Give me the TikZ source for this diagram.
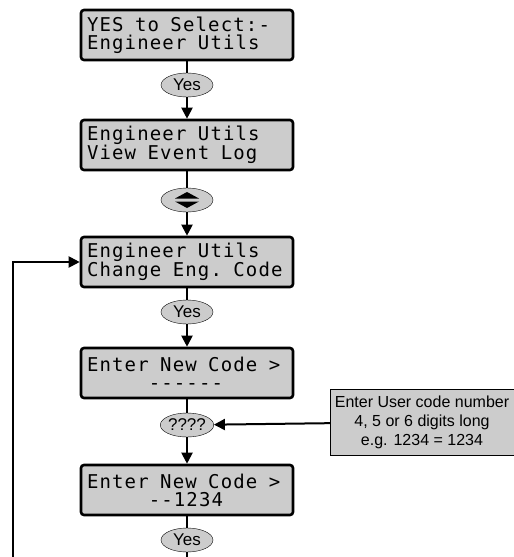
\documentclass[tikz,border=0pt]{standalone}
\usepackage{fontspec}
\setmainfont{Liberation Sans}
\newfontfamily\lcdfont{DejaVu Sans Mono}[LetterSpace=6]
\newcommand\gap{\hphantom{x}}
\usetikzlibrary{arrows.meta,shapes.geometric}

\begin{document}
\begin{tikzpicture}[x=1pt,y=-1pt,>={Triangle[length=11pt,width=11pt]},
  lcd/.style={draw,line width=2.6pt,rounded corners=3pt,fill=gray!40,
    text width=200pt,inner xsep=6pt,minimum height=50pt,align=left,
    font=\lcdfont\fontsize{19}{18}\selectfont},
  key/.style={draw,thin,ellipse,fill=gray!40,inner sep=0pt,
    minimum width=52pt,minimum height=24pt,font=\fontsize{17}{17}\selectfont},
  link/.style={line width=2pt}]
  \useasboundingbox (0,0) rectangle (514,557);
  % display screens
  \node[lcd] (sel)  at (187,35)  {YES\gap to\gap Select:-\\Engineer\gap Utils};
  \node[lcd] (log)  at (187,145) {Engineer\gap Utils\\View\gap Event\gap Log};
  \node[lcd] (chg)  at (187,262) {Engineer\gap Utils\\Change\gap Eng.\gap Code};
  \node[lcd] (new)  at (187,373) {Enter\gap New\gap Code\gap >\\\phantom{xxxxx}------};
  \node[lcd] (done) at (187,490) {Enter\gap New\gap Code\gap >\\\phantom{xxxxx}--1234};
  % keys
  \node[key] (yes1) at (187,85)  {Yes};
  \node[key] (ud)   at (187,200) {};
  \fill[shift={(ud.center)}] (-12,-1.5) -- (12,-1.5) -- (0,-8) -- cycle;
  \fill[shift={(ud.center)}] (-12,1.5) -- (12,1.5) -- (0,8) -- cycle;
  \node[key] (yes2) at (187,312) {Yes};
  \node[key] (code) at (187,425) {????};
  \node[key] (yes3) at (187,540) {Yes};
  % note
  \node[draw,thin,fill=gray!40,minimum width=184pt,minimum height=66pt,
    align=center,font=\fontsize{16}{19}\selectfont] (note) at (422,422)
    {Enter User code number\\4, 5 or 6 digits long\\e.g. 1234 = 1234};
  % connectors
  \draw[link] (sel) -- (yes1);
  \draw[link,->] (yes1) -- (log);
  \draw[link] (log) -- (ud);
  \draw[link,->] (ud) -- (chg);
  \draw[link] (chg) -- (yes2);
  \draw[link,->] (yes2) -- (new);
  \draw[link] (new) -- (code);
  \draw[link,->] (code) -- (done);
  \draw[link] (done) -- (yes3);
  \draw[link,->] (note) -- (code);
  \coordinate (end) at (187,557);
  \coordinate (back) at (13,557);
  \draw[link] (yes3) -- (end);
  \draw[link,->] (back) |- (chg.west);
\end{tikzpicture}
\end{document}
